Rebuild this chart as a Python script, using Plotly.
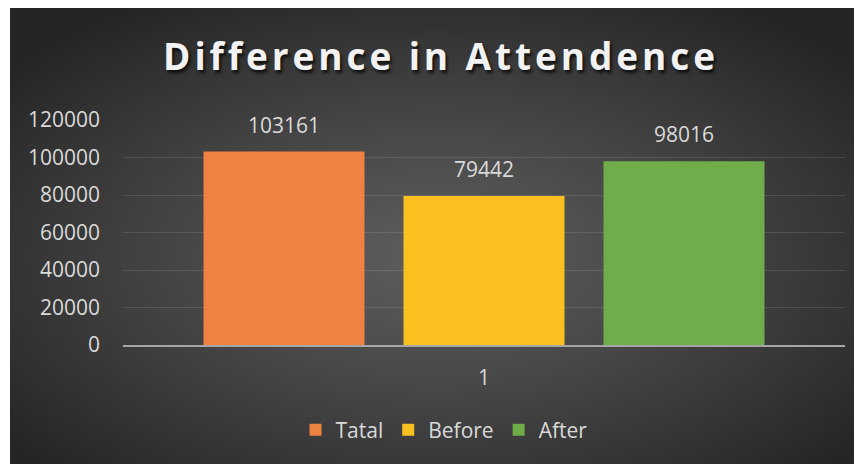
import zlib, struct, base64
import plotly.graph_objects as go

# ---- data ----
categories = ["1"]
series_names = ["Tatal", "Before", "After"]
series_values = [103161, 79442, 98016]
series_colors = ["#EE8240", "#F9C01F", "#6FAD4B"]
y_ticks = [0, 20000, 40000, 60000, 80000, 100000, 120000]
title_text = "Difference in Attendence"

# the page body has an 8px margin, so the figure is drawn 8px in from the window edge
OFF = 8
W, H = 862 - OFF, 464 - OFF
ML, MR, MT, MB = 123 - OFF, 17, 120 - OFF, 119
BARGAP = 0.169
BARGROUPGAP = 0.195

# ---- radial gradient background as PNG ----
def make_png(w, h, c_in, c_out):
    rows = []
    for j in range(h):
        row = bytearray([0])
        for i in range(w):
            dx = (i + 0.5) / w - 0.5
            dy = (j + 0.5) / h - 0.55
            d = min(1.0, ((dx / 0.5) ** 2 + (dy / 0.5) ** 2) ** 0.5 / 1.3)
            t = d ** 1.15
            for k in range(3):
                row.append(int(round(c_in[k] + (c_out[k] - c_in[k]) * t)))
        rows.append(bytes(row))
    raw = b"".join(rows)
    def chunk(tag, data):
        c = struct.pack(">I", len(data)) + tag + data
        return c + struct.pack(">I", zlib.crc32(tag + data) & 0xffffffff)
    png = b"\x89PNG\r\n\x1a\n"
    png += chunk(b"IHDR", struct.pack(">IIBBBBB", w, h, 8, 2, 0, 0, 0))
    png += chunk(b"IDAT", zlib.compress(raw, 9))
    png += chunk(b"IEND", b"")
    return "data:image/png;base64," + base64.b64encode(png).decode()

bg = make_png(172, 92, (0x5D, 0x5D, 0x5D), (0x25, 0x25, 0x25))

pw = W - ML - MR
ph = H - MT - MB
# dark panel from window (10,7) to the bottom-right corner
x0p = (10 - OFF - ML) / pw
x1p = (W - ML) / pw
y0p = (H - MB) / ph + 0.02
y1p = -MB / ph

fig = go.Figure()
for name, val, col in zip(series_names, series_values, series_colors):
    fig.add_trace(go.Bar(
        x=categories, y=[val], name=name,
        marker=dict(color=col, line=dict(width=0)),
        hoverinfo="skip",
    ))

slot = (1 - BARGAP) / len(series_names)
annotations = []
for i, val in enumerate(series_values):
    annotations.append(dict(
        x=(i - (len(series_names) - 1) / 2) * slot, y=val,
        xref="x", yref="y", text=str(val), showarrow=False,
        yanchor="bottom", yshift=11,
        font=dict(family="Open Sans", size=21, color="#D9D9D9"),
    ))

fig.update_layout(
    width=W, height=H,
    margin=dict(l=ML, r=MR, t=MT, b=MB),
    paper_bgcolor="white",
    plot_bgcolor="rgba(0,0,0,0)",
    barmode="group", bargap=BARGAP, bargroupgap=BARGROUPGAP,
    title=dict(
        text='<span style="letter-spacing:3.9px">' + title_text + "</span>",
        x=(441 - OFF) / W, xanchor="center",
        y=1 - (57 - OFF) / H, yanchor="middle",
        font=dict(family="Open Sans", size=37, weight="bold", color="#F2F2F2",
                  shadow="2px 3px 3px rgba(0,0,0,0.7)"),
    ),
    images=[dict(
        source=bg, xref="paper", yref="paper",
        x=x0p, y=y0p, sizex=x1p - x0p, sizey=y0p - y1p,
        xanchor="left", yanchor="top", sizing="stretch", layer="below",
    )],
    xaxis=dict(
        type="category", range=[-0.5, 0.5],
        showgrid=False, zeroline=False,
        showline=True, linecolor="#A6A6A6", linewidth=2,
        ticks="outside", ticklen=0, tickcolor="rgba(0,0,0,0)",
        ticklabelstandoff=13,
        tickfont=dict(family="Open Sans", size=21, color="#D9D9D9"),
    ),
    yaxis=dict(
        range=[0, 120000], tickvals=y_ticks,
        ticktext=[str(v) for v in y_ticks],
        showgrid=True, gridcolor="rgba(255,255,255,0.11)", gridwidth=1,
        zeroline=False, showline=False,
        ticklabelstandoff=22,
        tickfont=dict(family="Open Sans", size=21, color="#D9D9D9"),
    ),
    legend=dict(
        orientation="h", x=(444 - 123) / pw, xanchor="center",
        y=(H - MB - (430 - OFF)) / ph, yanchor="middle",
        font=dict(family="Open Sans", size=21, color="#D9D9D9"),
        bgcolor="rgba(0,0,0,0)", itemclick=False, itemdoubleclick=False,
    ),
    annotations=annotations,
    showlegend=True,
)

fig.write_html("out.html")
